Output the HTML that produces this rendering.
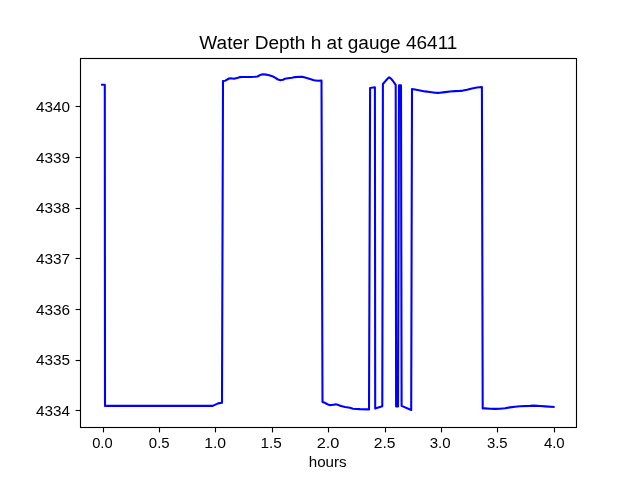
<!DOCTYPE html>
<html><head><meta charset="utf-8">
<style>
html,body{margin:0;padding:0;background:#fff;width:640px;height:480px;overflow:hidden}
svg{display:block;will-change:transform}
text{font-family:"Liberation Sans",sans-serif;fill:#000}
</style></head><body>
<svg width="640" height="480" viewBox="0 0 640 480">
<rect x="0" y="0" width="640" height="480" fill="#fff"/>
<path d="M102.10 84.70 L104.80 84.70 L105.00 405.90 L150.00 405.90 L212.70 405.90 L218.10 403.40 L222.00 402.80 L223.00 81.00 L225.30 80.70 L229.00 78.50 L230.50 78.30 L234.00 78.80 L238.00 77.75 L240.00 77.10 L242.00 77.00 L250.00 76.95 L255.00 76.70 L257.50 76.50 L260.00 75.10 L263.00 74.30 L266.00 74.60 L270.00 75.60 L273.00 76.50 L275.00 77.60 L278.00 79.50 L280.50 80.20 L283.00 79.70 L285.00 78.80 L288.00 78.30 L292.00 77.80 L295.00 77.10 L300.00 76.70 L303.00 76.90 L306.00 77.85 L310.00 79.00 L314.00 80.20 L318.00 80.75 L321.50 80.60 L322.50 401.90 L325.00 402.80 L327.00 404.00 L329.50 405.10 L332.00 405.00 L335.00 404.40 L337.00 404.50 L339.50 405.40 L342.00 406.30 L345.00 406.95 L350.00 407.85 L353.00 408.70 L360.00 409.15 L369.00 409.40 L370.10 88.00 L374.90 87.30 L375.20 408.60 L382.30 406.25 L382.90 84.00 L385.00 81.60 L387.00 79.30 L389.20 77.40 L391.00 78.60 L393.00 81.00 L394.50 83.25 L395.70 84.80 L396.10 406.50 L398.00 406.50 L399.00 85.20 L401.00 85.20 L401.60 405.90 L411.20 410.00 L412.00 89.00 L415.00 89.50 L420.00 90.40 L425.00 91.40 L430.00 92.00 L435.00 92.75 L437.50 92.90 L440.00 92.80 L445.00 92.10 L450.00 91.45 L455.00 91.10 L460.00 90.90 L463.00 90.60 L467.00 89.70 L472.00 88.40 L477.00 87.50 L481.90 87.00 L482.70 408.40 L485.00 408.40 L490.00 408.75 L495.00 408.90 L500.00 408.75 L505.00 408.25 L510.00 407.40 L515.00 406.70 L520.00 406.25 L530.00 405.90 L534.00 405.65 L540.00 405.95 L545.00 406.40 L553.60 407.00" fill="none" stroke="#0000ff" stroke-width="2.08" stroke-linejoin="round" stroke-linecap="square"/>
<g stroke="#000" stroke-width="1.11" fill="none">
<rect x="80.5" y="58.5" width="496" height="369" />
<line x1="75.6" y1="410.5" x2="80.5" y2="410.5" />
<line x1="75.6" y1="360.5" x2="80.5" y2="360.5" />
<line x1="75.6" y1="309.5" x2="80.5" y2="309.5" />
<line x1="75.6" y1="258.5" x2="80.5" y2="258.5" />
<line x1="75.6" y1="208.5" x2="80.5" y2="208.5" />
<line x1="75.6" y1="157.5" x2="80.5" y2="157.5" />
<line x1="75.6" y1="106.5" x2="80.5" y2="106.5" />
<line x1="103.5" y1="427" x2="103.5" y2="432.4" />
<line x1="159.5" y1="427" x2="159.5" y2="432.4" />
<line x1="215.5" y1="427" x2="215.5" y2="432.4" />
<line x1="272.5" y1="427" x2="272.5" y2="432.4" />
<line x1="328.5" y1="427" x2="328.5" y2="432.4" />
<line x1="385.5" y1="427" x2="385.5" y2="432.4" />
<line x1="441.5" y1="427" x2="441.5" y2="432.4" />
<line x1="497.5" y1="427" x2="497.5" y2="432.4" />
<line x1="554.5" y1="427" x2="554.5" y2="432.4" />
</g>
<text x="35.93" y="416.00" font-size="14.5" textLength="33.96" lengthAdjust="spacingAndGlyphs">4334</text>
<text x="35.93" y="365.00" font-size="14.5" textLength="34.12" lengthAdjust="spacingAndGlyphs">4335</text>
<text x="35.93" y="315.00" font-size="14.5" textLength="34.16" lengthAdjust="spacingAndGlyphs">4336</text>
<text x="35.93" y="264.00" font-size="14.5" textLength="34.23" lengthAdjust="spacingAndGlyphs">4337</text>
<text x="35.93" y="213.00" font-size="14.5" textLength="34.16" lengthAdjust="spacingAndGlyphs">4338</text>
<text x="35.93" y="163.00" font-size="14.5" textLength="34.19" lengthAdjust="spacingAndGlyphs">4339</text>
<text x="35.93" y="112.00" font-size="14.5" textLength="34.09" lengthAdjust="spacingAndGlyphs">4340</text>
<text x="92.17" y="448.00" font-size="14.5" textLength="20.45" lengthAdjust="spacingAndGlyphs">0.0</text>
<text x="148.89" y="448.00" font-size="14.5" textLength="20.81" lengthAdjust="spacingAndGlyphs">0.5</text>
<text x="204.19" y="448.00" font-size="14.5" textLength="21.92" lengthAdjust="spacingAndGlyphs">1.0</text>
<text x="260.51" y="448.00" font-size="14.5" textLength="21.29" lengthAdjust="spacingAndGlyphs">1.5</text>
<text x="316.72" y="448.00" font-size="14.5" textLength="22.76" lengthAdjust="spacingAndGlyphs">2.0</text>
<text x="373.74" y="448.00" font-size="14.5" textLength="21.76" lengthAdjust="spacingAndGlyphs">2.5</text>
<text x="429.73" y="448.00" font-size="14.5" textLength="20.91" lengthAdjust="spacingAndGlyphs">3.0</text>
<text x="486.92" y="448.00" font-size="14.5" textLength="20.73" lengthAdjust="spacingAndGlyphs">3.5</text>
<text x="543.90" y="448.00" font-size="14.5" textLength="20.80" lengthAdjust="spacingAndGlyphs">4.0</text>
<text x="199.38" y="48.50" font-size="18.0" textLength="258.04" lengthAdjust="spacingAndGlyphs">Water Depth h at gauge 46411</text>
<text x="308.74" y="467.00" font-size="14.5" textLength="37.90" lengthAdjust="spacingAndGlyphs">hours</text>
</svg>
</body></html>
